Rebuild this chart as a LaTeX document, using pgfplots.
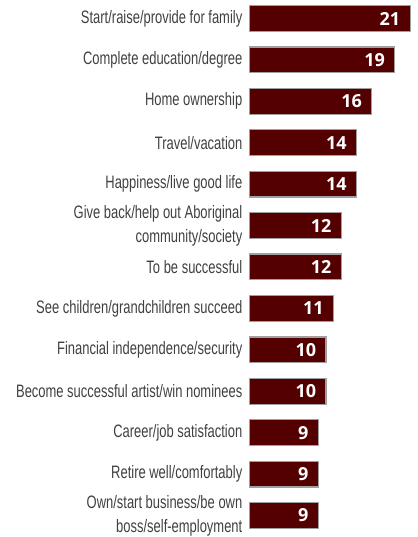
\documentclass[border=0pt]{standalone}
\usepackage{fontspec}
\usepackage{pgfplots}
\pgfplotsset{compat=1.18}
\newfontfamily\labfont{Liberation Sans}[FakeStretch=0.72]
\newfontfamily\numfont{Open Sans}
\definecolor{barred}{RGB}{84,0,0}
\definecolor{bargray}{RGB}{160,160,160}
\definecolor{labgray}{RGB}{64,64,64}

\begin{document}
\begin{tikzpicture}
\begin{axis}[
    name=ax,
    xbar,
    scale only axis,
    width=167.5pt, height=537pt,
    xmin=0, xmax=21.9,
    ymin=-0.447, ymax=12.52,
    y dir=reverse,
    axis line style={draw=none},
    major tick length=0pt,
    xtick=\empty,
    ytick={0,...,12},
    yticklabels={
        Start/raise/provide for family,
        Complete education/degree,
        Home ownership,
        Travel/vacation,
        Happiness/live good life,
        Give back/help out Aboriginal\\community/society,
        To be successful,
        See children/grandchildren succeed,
        Financial independence/security,
        Become successful artist/win nominees,
        Career/job satisfaction,
        Retire well/comfortably,
        Own/start business/be own\\boss/self-employment
    },
    yticklabel style={align=right, inner sep=0pt, xshift=-7pt,
        text=labgray, font=\labfont\fontsize{18}{24}\selectfont},
    bar width=25.8pt,
    nodes near coords,
    every node near coord/.append style={anchor=east, xshift=-6pt,
        text=white, font=\numfont\bfseries\fontsize{18}{20}\selectfont,
        /pgf/number format/assume math mode=true},
    clip=false,
]
\addplot[fill=barred, draw=bargray, line width=1.2pt]
    coordinates {
    (21,0)(19,1)(16,2)(14,3)(14,4)(12,5)(12,6)(11,7)(10,8)(10,9)(9,10)(9,11)(9,12)
    };
\end{axis}
\pgfresetboundingbox
\path ([xshift=-249.5pt]ax.south west) rectangle (ax.north east);
\end{tikzpicture}
\end{document}
